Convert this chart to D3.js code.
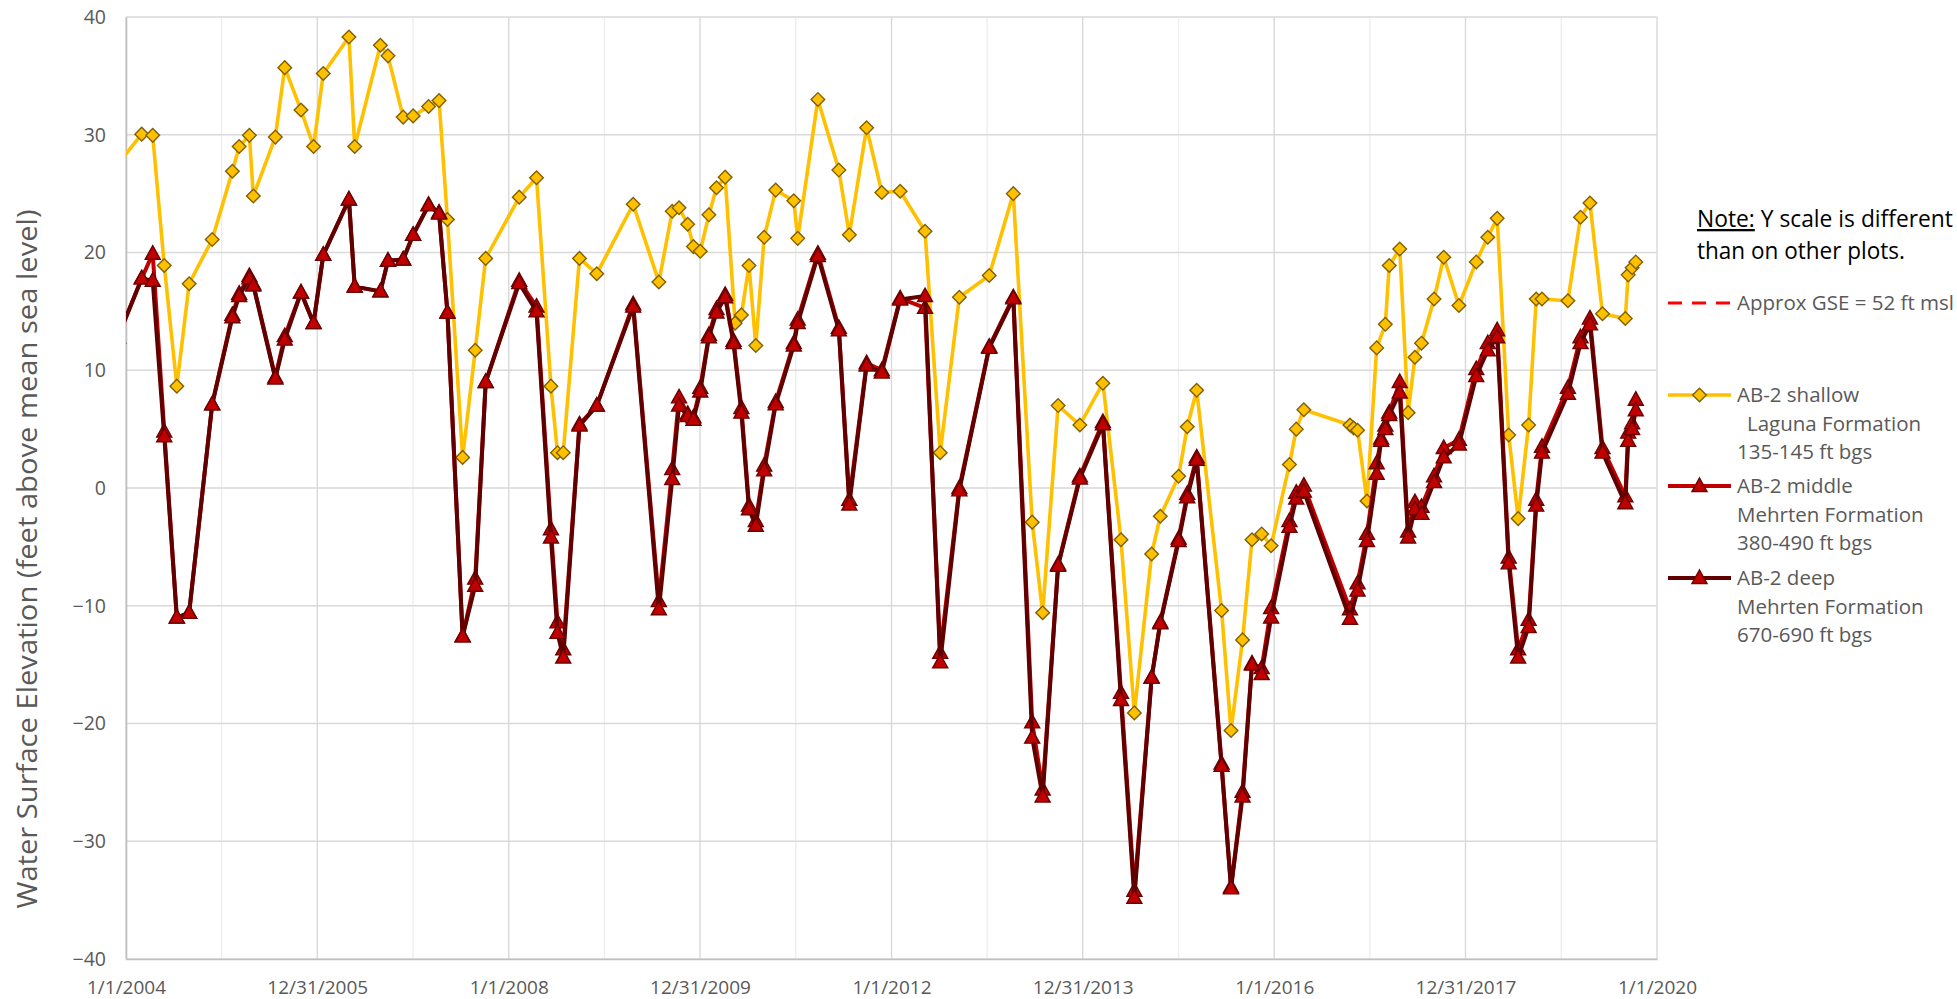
<!DOCTYPE html>
<html>
<head>
<meta charset="utf-8">
<script src="https://cdn.jsdelivr.net/npm/d3@7"></script>
<style>
  body { margin: 0; background: #fff; }
  text { font-family: "Open Sans", "Noto Sans", sans-serif; }
</style>
</head>
<body>
<div id="chart"></div>
<script>
// x axis tick labels (Excel 730-day major unit)
const xTickLabels = ["1/1/2004", "12/31/2005", "1/1/2008", "12/31/2009", "1/1/2012",
                     "12/31/2013", "1/1/2016", "12/31/2017", "1/1/2020"];
const yTicks = [-40, -30, -20, -10, 0, 10, 20, 30, 40];

// ground surface elevation reference (off the top of this plot)
const gseDates = ["2003-12-01", "2020-01-01"];
const gseValues = [52, 52];

// AB-2 shallow
const shallowDates = [
  "2003-12-01", "2004-03-01", "2004-04-12", "2004-05-26", "2004-07-13", "2004-08-29", "2004-11-25",
  "2005-02-10", "2005-03-08", "2005-04-16", "2005-05-01", "2005-07-24", "2005-08-29", "2005-10-30",
  "2005-12-17", "2006-01-23", "2006-05-01", "2006-05-23", "2006-08-29", "2006-09-27", "2006-11-24",
  "2007-01-01", "2007-03-01", "2007-04-10", "2007-05-12", "2007-07-09", "2007-08-26", "2007-10-05",
  "2008-02-10", "2008-04-16", "2008-06-10", "2008-07-05", "2008-07-27", "2008-09-27", "2008-12-02",
  "2009-04-20", "2009-07-27", "2009-09-16", "2009-10-12", "2009-11-14", "2009-12-06", "2010-01-01",
  "2010-02-03", "2010-03-04", "2010-04-06", "2010-05-14", "2010-06-07", "2010-07-06", "2010-08-01",
  "2010-09-02", "2010-10-16", "2010-12-24", "2011-01-08", "2011-03-26", "2011-06-14", "2011-07-24",
  "2011-09-28", "2011-11-25", "2012-02-03", "2012-05-08", "2012-07-05", "2012-09-16", "2013-01-08",
  "2013-04-10", "2013-06-21", "2013-07-31", "2013-09-28", "2013-12-20", "2014-03-18", "2014-05-26",
  "2014-07-16", "2014-09-20", "2014-10-23", "2015-01-01", "2015-02-03", "2015-03-11", "2015-06-14",
  "2015-07-20", "2015-09-02", "2015-10-08", "2015-11-14", "2015-12-20", "2016-02-28", "2016-03-25",
  "2016-04-23", "2016-10-16", "2016-10-30", "2016-11-14", "2016-12-20", "2017-01-26", "2017-02-28",
  "2017-03-15", "2017-04-24", "2017-05-26", "2017-06-21", "2017-07-16", "2017-09-02", "2017-10-09",
  "2017-12-06", "2018-02-10", "2018-03-26", "2018-05-01", "2018-06-14", "2018-07-20", "2018-08-29",
  "2018-09-27", "2018-10-19", "2019-01-26", "2019-03-15", "2019-04-20", "2019-06-07", "2019-09-02",
  "2019-09-13", "2019-09-28", "2019-10-12"
];
const shallowValues = [
  27.5, 30.05, 29.95, 18.9, 8.65, 17.35, 21.1,
  26.9, 29.0, 29.95, 24.8, 29.8, 35.7, 32.1,
  29.0, 35.2, 38.3, 29.0, 37.6, 36.7, 31.5,
  31.6, 32.4, 32.9, 22.8, 2.6, 11.7, 19.5,
  24.7, 26.35, 8.65, 3.0, 3.0, 19.5, 18.2,
  24.1, 17.5, 23.5, 23.8, 22.4, 20.5, 20.1,
  23.2, 25.5, 26.4, 14.0, 14.7, 18.9, 12.1,
  21.3, 25.3, 24.4, 21.2, 33.0, 27.0, 21.5,
  30.6, 25.1, 25.2, 21.8, 3.0, 16.2, 18.05,
  25.0, -2.9, -10.6, 7.0, 5.35, 8.9, -4.4,
  -19.1, -5.6, -2.4, 1.0, 5.2, 8.3, -10.4,
  -20.6, -12.9, -4.4, -3.9, -4.9, 2.0, 5.0,
  6.65, 5.35, 5.1, 4.9, -1.1, 11.9, 13.9,
  18.9, 20.3, 6.4, 11.1, 12.3, 16.05, 19.6,
  15.5, 19.2, 21.3, 22.9, 4.5, -2.6, 5.35,
  16.05, 16.05, 15.9, 23.0, 24.2, 14.8, 14.4,
  18.1, 18.7, 19.2
];

// AB-2 middle and AB-2 deep (same sampling dates)
const deepDates = [
  "2003-12-01", "2004-03-01", "2004-04-12", "2004-05-26", "2004-07-13", "2004-08-29", "2004-11-25",
  "2005-02-10", "2005-03-08", "2005-04-16", "2005-05-01", "2005-07-24", "2005-08-29", "2005-10-30",
  "2005-12-17", "2006-01-23", "2006-05-01", "2006-05-23", "2006-08-29", "2006-09-27", "2006-11-24",
  "2007-01-01", "2007-03-01", "2007-04-10", "2007-05-12", "2007-07-09", "2007-08-26", "2007-10-05",
  "2008-02-10", "2008-04-16", "2008-06-10", "2008-07-05", "2008-07-27", "2008-09-27", "2008-12-02",
  "2009-04-20", "2009-07-27", "2009-09-16", "2009-10-12", "2009-11-14", "2009-12-06", "2010-01-01",
  "2010-02-03", "2010-03-04", "2010-04-06", "2010-05-08", "2010-06-07", "2010-07-06", "2010-08-01",
  "2010-09-02", "2010-10-16", "2010-12-24", "2011-01-08", "2011-03-26", "2011-06-14", "2011-07-24",
  "2011-09-28", "2011-11-25", "2012-02-03", "2012-05-08", "2012-07-05", "2012-09-16", "2013-01-08",
  "2013-04-10", "2013-06-21", "2013-07-31", "2013-09-28", "2013-12-20", "2014-03-18", "2014-05-26",
  "2014-07-16", "2014-09-20", "2014-10-23", "2015-01-01", "2015-02-03", "2015-03-11", "2015-06-14",
  "2015-07-20", "2015-09-02", "2015-10-08", "2015-11-14", "2015-12-20", "2016-02-28", "2016-03-25",
  "2016-04-23", "2016-10-16", "2016-11-14", "2016-12-20", "2017-01-26", "2017-02-12", "2017-02-28",
  "2017-03-15", "2017-04-24", "2017-05-26", "2017-06-21", "2017-07-16", "2017-09-02", "2017-10-09",
  "2017-12-06", "2018-02-10", "2018-03-26", "2018-05-01", "2018-06-14", "2018-07-20", "2018-08-29",
  "2018-09-27", "2018-10-19", "2019-01-26", "2019-03-15", "2019-04-20", "2019-06-07", "2019-09-02",
  "2019-09-13", "2019-09-28", "2019-10-12"
];
const middleValues = [
  12.8, 17.8, 19.9, 4.8, -11.0, -10.6, 7.1,
  14.7, 16.5, 18.0, 17.3, 9.4, 12.9, 16.6,
  14.0, 19.8, 24.5, 17.1, 16.7, 19.3, 19.4,
  21.5, 24.05, 23.4, 14.9, -12.6, -7.7, 9.0,
  17.6, 15.4, -3.5, -11.4, -13.7, 5.4, 7.0,
  15.6, -9.6, 1.6, 7.7, 6.3, 6.0, 8.5,
  13.0, 15.2, 16.4, 12.5, 6.8, -1.5, -2.8,
  1.9, 7.3, 12.3, 14.3, 19.9, 13.6, -1.0,
  10.6, 10.0, 16.1, 15.3, -14.0, 0.0, 12.0,
  16.2, -19.9, -25.6, -6.5, 1.0, 5.6, -17.4,
  -34.2, -16.1, -11.4, -4.3, -0.5, 2.6, -23.4,
  -33.9, -25.8, -14.9, -15.3, -10.2, -2.8, -0.4,
  0.2, -10.3, -8.1, -3.9, 2.1, 4.2, 5.3,
  6.4, 9.0, -3.7, -1.2, -1.6, 1.0, 3.4,
  4.1, 10.1, 12.3, 13.4, -5.9, -13.7, -11.2,
  -1.0, 3.5, 8.5, 12.8, 14.4, 3.4, -0.7,
  4.7, 5.5, 7.5
];
const deepValues = [
  12.8, 17.8, 17.6, 4.4, -11.0, -10.6, 7.1,
  14.5, 16.3, 17.8, 17.2, 9.3, 12.6, 16.6,
  14.0, 19.8, 24.5, 17.1, 16.7, 19.3, 19.4,
  21.5, 24.0, 23.3, 14.9, -12.6, -8.3, 9.0,
  17.4, 15.0, -4.2, -12.3, -14.4, 5.3, 7.0,
  15.4, -10.3, 0.75, 7.0, 6.1, 5.8, 8.2,
  12.8, 14.9, 16.2, 12.3, 6.4, -1.8, -3.2,
  1.5, 7.1, 12.1, 14.0, 19.7, 13.4, -1.4,
  10.4, 9.8, 16.0, 16.3, -14.8, -0.2, 11.9,
  16.1, -21.2, -26.2, -6.6, 0.8, 5.4, -18.0,
  -34.8, -16.1, -11.5, -4.5, -0.8, 2.4, -23.6,
  -34.0, -26.2, -15.0, -15.8, -11.0, -3.3, -0.9,
  -0.3, -11.1, -8.7, -4.5, 1.2, 4.0, 5.0,
  6.2, 8.1, -4.2, -1.8, -2.2, 0.5, 2.6,
  3.7, 9.5, 11.7, 12.8, -6.4, -14.4, -11.8,
  -1.5, 3.0, 8.0, 12.3, 13.9, 3.0, -1.3,
  4.0, 5.0, 6.6
];

const legendNote = ["Y scale is different", "than on other plots."];
const legendGse = "Approx GSE = 52 ft msl";
const legendShallow = ["AB-2 shallow", "Laguna Formation", "135-145 ft bgs"];
const legendMiddle = ["AB-2 middle", "Mehrten Formation", "380-490 ft bgs"];
const legendDeep = ["AB-2 deep", "Mehrten Formation", "670-690 ft bgs"];

const w = 1957, h = 999;
const plotLeft = 126, plotRight = 1657, plotTop = 17, plotBottom = 959;
const parseDate = d3.timeParse("%Y-%m-%d");
const parseTick = d3.timeParse("%m/%d/%Y");
const grey = "#595959";

const svg = d3.select("#chart").append("svg")
  .attr("width", w)
  .attr("height", h);

const xScale = d3.scaleTime()
  .domain([parseTick("1/1/2004"), parseTick("1/1/2020")])
  .range([plotLeft, plotRight]);
const yScale = d3.scaleLinear()
  .domain([-40, 40])
  .range([plotBottom, plotTop]);

const xTickDates = xTickLabels.map(parseTick);
const minorDates = d3.pairs(xTickDates).map(([a, b]) => new Date((+a + +b) / 2));

// gridlines
svg.append("g").selectAll("line")
  .data(minorDates)
  .enter().append("line")
  .attr("x1", d => xScale(d)).attr("x2", d => xScale(d))
  .attr("y1", plotTop).attr("y2", plotBottom)
  .attr("stroke", "#eeeeee").attr("stroke-width", 1.4);

svg.append("g").selectAll("line")
  .data(xTickDates)
  .enter().append("line")
  .attr("x1", d => xScale(d)).attr("x2", d => xScale(d))
  .attr("y1", plotTop).attr("y2", plotBottom)
  .attr("stroke", "#d9d9d9").attr("stroke-width", 1.4);

svg.append("g").selectAll("line")
  .data(yTicks)
  .enter().append("line")
  .attr("x1", plotLeft).attr("x2", plotRight)
  .attr("y1", d => yScale(d)).attr("y2", d => yScale(d))
  .attr("stroke", "#d9d9d9").attr("stroke-width", 1.4);

// axes
const xAxis = d3.axisBottom(xScale)
  .tickValues(xTickDates)
  .tickFormat((d, i) => xTickLabels[i])
  .tickSize(0)
  .tickPadding(22);
const gx = svg.append("g")
  .attr("transform", `translate(0, ${plotBottom})`)
  .call(xAxis);
gx.select(".domain").attr("stroke", "#bfbfbf").attr("stroke-width", 1.6);
gx.selectAll("text")
  .attr("fill", grey)
  .style("font-size", "19px")
  .style("font-family", "'Open Sans', sans-serif");

const yAxis = d3.axisLeft(yScale)
  .tickValues(yTicks)
  .tickSize(0)
  .tickPadding(20);
const gy = svg.append("g")
  .attr("transform", `translate(${plotLeft}, 0)`)
  .call(yAxis);
gy.select(".domain").attr("stroke", "#bfbfbf").attr("stroke-width", 1.6);
gy.selectAll("text")
  .attr("fill", grey)
  .style("font-size", "19.5px")
  .style("font-family", "'Open Sans', sans-serif");

svg.append("text")
  .attr("transform", "rotate(-90)")
  .attr("x", -559)
  .attr("y", 37)
  .attr("text-anchor", "middle")
  .attr("fill", grey)
  .style("font-size", "28px")
  .attr("textLength", 699)
  .attr("lengthAdjust", "spacingAndGlyphs")
  .text("Water Surface Elevation (feet above mean sea level)");

// plot clip
svg.append("clipPath").attr("id", "plot-clip")
  .append("rect")
  .attr("x", plotLeft).attr("y", plotTop - 8)
  .attr("width", plotRight - plotLeft + 8).attr("height", plotBottom - plotTop + 16);

const diamond = "M0,-6.8L6.8,0L0,6.8L-6.8,0Z";
const triangle = "M0,-8L7.5,5.5L-7.5,5.5Z";

const series = [
  { name: "gse", dates: gseDates, values: gseValues, color: "#ff0000", width: 3.2, dash: "14,10" },
  { name: "shallow", dates: shallowDates, values: shallowValues, color: "#ffc000", width: 3.6,
    marker: diamond, fill: "#ffc000", stroke: "#7f6000" },
  { name: "middle", dates: deepDates, values: middleValues, color: "#c00000", width: 4,
    marker: triangle, fill: "#c00000", stroke: "#6b0000" },
  { name: "deep", dates: deepDates, values: deepValues, color: "#600000", width: 4,
    marker: triangle, fill: "#c00000", stroke: "#6b0000" }
];

const line = d3.line()
  .x(d => xScale(d.date))
  .y(d => yScale(d.value));

const plot = svg.append("g").attr("clip-path", "url(#plot-clip)");

series.forEach(s => {
  const pts = s.dates.map((d, i) => ({ date: parseDate(d), value: s.values[i] }));
  plot.append("path")
    .datum(pts)
    .attr("fill", "none")
    .attr("stroke", s.color)
    .attr("stroke-width", s.width)
    .attr("stroke-linejoin", "round")
    .attr("stroke-dasharray", s.dash || null)
    .attr("d", line);
  if (s.marker) {
    plot.append("g").selectAll("path")
      .data(pts)
      .enter().append("path")
      .attr("d", s.marker)
      .attr("transform", d => `translate(${xScale(d.date)},${yScale(d.value)})`)
      .attr("fill", s.fill)
      .attr("stroke", s.stroke)
      .attr("stroke-width", 1.4);
  }
});

// legend
const legend = svg.append("g").attr("id", "legend");
const note = legend.append("text")
  .attr("x", 1697).attr("y", 227)
  .attr("fill", "#000")
  .style("font-size", "23px")
  .attr("textLength", 256)
  .attr("lengthAdjust", "spacingAndGlyphs");
note.append("tspan").attr("text-decoration", "underline").text("Note:");
note.append("tspan").text(" " + legendNote[0]);
legend.append("text")
  .attr("x", 1697).attr("y", 259)
  .attr("fill", "#000")
  .style("font-size", "23px")
  .attr("textLength", 208)
  .attr("lengthAdjust", "spacingAndGlyphs")
  .text(legendNote[1]);

const lx1 = 1668, lx2 = 1731, tx = 1737;
legend.append("line")
  .attr("x1", lx1).attr("x2", lx2).attr("y1", 303).attr("y2", 303)
  .attr("stroke", "#ff0000").attr("stroke-width", 3.2).attr("stroke-dasharray", "14,10");
legend.append("text")
  .attr("x", tx).attr("y", 310)
  .attr("fill", grey).style("font-size", "20.5px")
  .text(legendGse);

const legendItems = [
  { lines: legendShallow, y: 395, s: series[1], indent: [0, 10, 0] },
  { lines: legendMiddle, y: 486, s: series[2], indent: [0, 0, 0] },
  { lines: legendDeep, y: 578, s: series[3], indent: [0, 0, 0] }
];
legendItems.forEach(item => {
  legend.append("line")
    .attr("x1", lx1).attr("x2", lx2).attr("y1", item.y).attr("y2", item.y)
    .attr("stroke", item.s.color).attr("stroke-width", item.s.width);
  legend.append("path")
    .attr("d", item.s.marker)
    .attr("transform", `translate(${(lx1 + lx2) / 2},${item.y})`)
    .attr("fill", item.s.fill)
    .attr("stroke", item.s.stroke)
    .attr("stroke-width", 1.4);
  item.lines.forEach((t, i) => {
    legend.append("text")
      .attr("x", tx + item.indent[i])
      .attr("y", item.y + 7 + i * 28.5)
      .attr("fill", grey).style("font-size", "20.5px")
      .text(t);
  });
});
</script>
</body>
</html>
